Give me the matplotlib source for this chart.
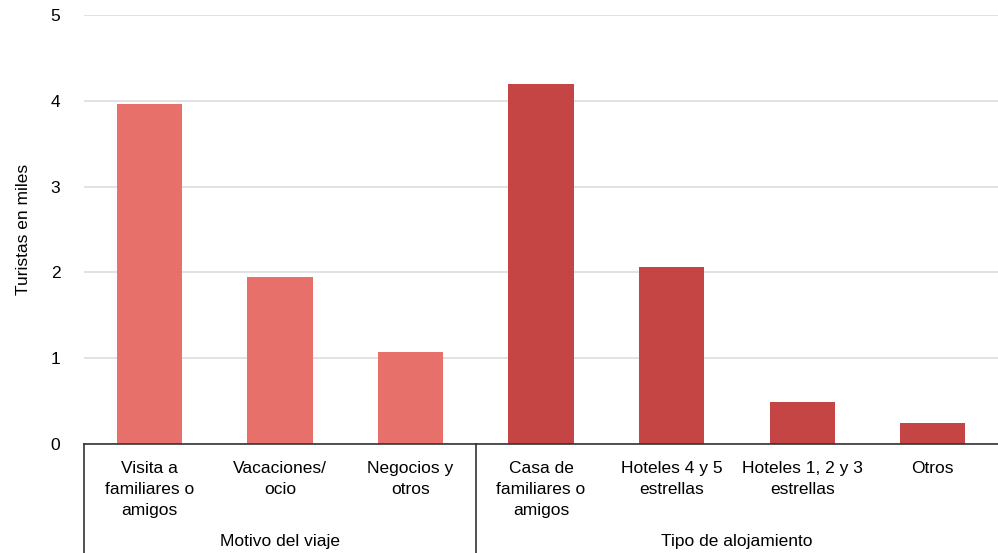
import matplotlib
matplotlib.use("Agg")
import matplotlib.pyplot as plt
from matplotlib.lines import Line2D

categories = ["Visita a\nfamiliares o\namigos", "Vacaciones/\nocio", "Negocios y\notros",
              "Casa de\nfamiliares o\namigos", "Hoteles 4 y 5\nestrellas", "Hoteles 1, 2 y 3\nestrellas", "Otros"]
values = [3.96, 1.95, 1.07, 4.19, 2.06, 0.49, 0.245]
groups = ["Motivo del viaje", "Tipo de alojamiento"]
group_sizes = [3, 4]
group_colors = ["#E8706B", "#C44544"]
yticks = [0, 1, 2, 3, 4, 5]

plt.rcParams['font.family'] = ['Liberation Sans', 'DejaVu Sans']

fig = plt.figure(figsize=(9.98, 5.53), dpi=100)
W, H = 998, 553
ax = fig.add_axes([84/W, (H-444)/H, (998-84)/W, (444-15)/H])

colors = []
for g, n in enumerate(group_sizes):
    colors += [group_colors[g]] * n
x = list(range(len(categories)))
ax.bar(x, values, width=0.5, color=colors, zorder=3)

ax.set_xlim(-0.5, len(categories) - 0.5)
ax.set_ylim(0, 5)
ax.set_yticks(yticks)
ax.set_yticklabels([str(t) for t in yticks], fontsize=12.5)
ax.tick_params(axis='y', length=0, pad=17)
ax.set_xticks([])
ax.yaxis.grid(True, color="#dddddd", linewidth=1.2, zorder=0)
for s in ["top", "right", "left"]:
    ax.spines[s].set_visible(False)
ax.spines["bottom"].set_color("#333333")
ax.spines["bottom"].set_linewidth(1.2)
ax.spines["bottom"].set_zorder(4)
ax.set_ylabel("Turistas en miles", fontsize=12.5, labelpad=14)

for xi, lab in zip(x, categories):
    ax.annotate(lab, xy=(xi, 0), xycoords=('data', 'axes fraction'),
                xytext=(0, -12), textcoords='offset points',
                ha='center', va='top', fontsize=12.5, linespacing=1.5)

trans = ax.get_xaxis_transform()
bottom = -(553 - 444) / (444 - 15)
start = 0
seps = [-0.5]
for g, n in enumerate(group_sizes):
    center = (start - 0.5 + start + n - 0.5) / 2
    ax.annotate(groups[g], xy=(center, 0), xycoords=('data', 'axes fraction'),
                xytext=(0, -70.5), textcoords='offset points',
                ha='center', va='center', fontsize=12.5)
    start += n
    if start < len(categories):
        seps.append(start - 0.5)
for sx in seps:
    ax.add_line(Line2D([sx, sx], [0, bottom], transform=trans, color="#333333",
                       linewidth=1.2, clip_on=False))

fig.savefig("out.png", dpi=100)
